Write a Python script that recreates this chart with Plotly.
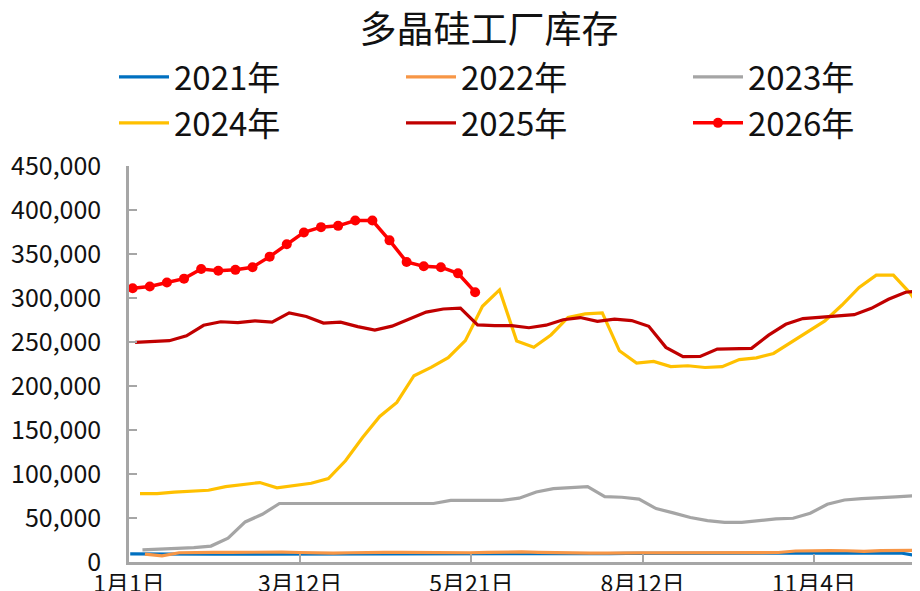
import datetime as dt
import plotly.graph_objects as go

# ---------------- data (values in tonnes) ----------------
YEARS = [2021, 2022, 2023, 2024, 2025, 2026]
SERIES_NAMES = ["2021年", "2022年", "2023年", "2024年", "2025年", "2026年"]

v2021 = [9.2, 9.0, 9.0, 8.8, 8.8, 8.8, 9.0, 9.0, 9.0, 9.0, 8.8, 8.8, 8.8, 8.8, 9.0, 9.0,
         9.0, 9.0, 9.0, 9.2, 9.2, 9.4, 9.4, 9.4, 9.4, 9.5, 9.5, 9.5, 9.5, 9.8, 9.8, 10.0,
         10.0, 10.0, 10.0, 10.0, 10.0, 10.0, 10.2, 10.4, 10.5, 10.5, 10.5, 10.6, 10.6, 10.2,
         7.2, 7.0]
v2022 = [9.0, 7.0, 10.5, 11.0, 11.0, 11.0, 11.2, 11.2, 11.2, 10.8, 10.0, 10.0, 10.5, 11.0,
         11.0, 11.0, 10.8, 11.0, 11.0, 10.5, 11.0, 11.5, 11.5, 11.0, 10.5, 9.8, 10.0, 10.0,
         10.5, 10.3, 10.3, 10.3, 10.3, 10.5, 10.5, 10.5, 10.5, 10.8, 12.5, 13.0, 13.0, 12.8,
         12.0, 13.0, 13.2, 13.2, 13.5]
v2023 = [13.7, 14.4, 15.5, 16.3, 18.1, 27.0, 45.5, 54.2, 66.5, 66.5, 66.5, 66.5, 66.5, 66.5,
         66.5, 66.5, 66.5, 66.5, 70.1, 70.1, 70.1, 70.1, 72.5, 79.6, 83.4, 84.2, 85.7, 74.3,
         73.6, 71.5, 60.7, 55.8, 50.5, 47.0, 45.0, 45.0, 47.0, 48.9, 49.7, 55.4, 65.6, 70.5,
         72.1, 72.8, 74.0, 75.1, 76.2]
v2024 = [77.7, 77.7, 79.3, 80.4, 81.5, 85.7, 88.4, 90.3, 84.2, 86.5, 89.5, 94.8, 115.0,
         141.5, 165.4, 181.3, 211.7, 221.2, 232.2, 251.6, 290.6, 309.2, 251.0, 244.0, 258.0,
         278.0, 282.0, 283.0, 240.0, 226.0, 228.0, 222.0, 223.0, 221.0, 222.0, 230.0, 232.0,
         237.0, 249.0, 262.0, 274.0, 292.0, 312.0, 326.0, 326.0, 305.0, 276.0]
v2025 = [249.6, 251.0, 251.5, 257.0, 269.0, 273.0, 272.0, 274.0, 272.5, 283.0, 279.0, 271.5,
         272.5, 267.5, 263.5, 268.0, 276.0, 284.0, 287.5, 288.5, 269.5, 268.5, 268.5, 266.2,
         269.1, 275.3, 277.8, 273.5, 275.9, 274.4, 267.8, 243.9, 233.4, 233.6, 242.0, 242.5,
         242.8, 257.8, 270.1, 276.6, 278.1, 279.2, 281.1, 288.3, 298.6, 306.5, 308.8]
v2026 = [311.0, 313.0, 317.6, 322.0, 333.0, 331.0, 332.0, 335.0, 347.0, 361.0, 374.5, 380.5,
         382.0, 388.0, 388.0, 365.5, 341.0, 336.0, 335.0, 328.0, 306.6]

VALUES = [v2021, v2022, v2023, v2024, v2025, v2026]
UNIT = 1000  # values above are in thousands of tonnes

XTICK_LABELS = ["1月1日", "3月12日", "5月21日", "8月12日", "11月4日"]
TICK_STEP_DAYS = 70
WEEK = 7
DAY_CENTER = 0.5  # points sit in the middle of their day slot

# ---------------- style ----------------
COLORS = ["#0070C0", "#F79646", "#A5A5A5", "#FFC000", "#C00000", "#FF0000"]
FONT = "Noto Sans CJK SC, Noto Sans, sans-serif"
AXIS_COLOR = "#A6A6A6"


def first_friday_offset(year):
    jan1 = dt.date(year, 1, 1)
    return (4 - jan1.weekday()) % 7


fig = go.Figure()
for year, name, vals, color in zip(YEARS, SERIES_NAMES, VALUES, COLORS):
    d0 = first_friday_offset(year)
    xs = [d0 + DAY_CENTER + WEEK * i for i in range(len(vals))]
    ys = [v * UNIT for v in vals]
    if year == 2026:
        fig.add_trace(go.Scatter(x=xs, y=ys, name=name, mode="lines+markers",
                                 line=dict(color=color, width=3.5),
                                 marker=dict(color=color, size=10)))
    else:
        fig.add_trace(go.Scatter(x=xs, y=ys, name=name, mode="lines",
                                 line=dict(color=color, width=3.2)))

W, H = 920, 591
ml, mr, mt, mb = 121, 0, 158, 37
plot_w = W - ml - mr
plot_h = H - mt - mb
px_per_day = 2.446
x_max = plot_w / px_per_day

fig.update_layout(
    width=W, height=H,
    margin=dict(l=ml, r=mr, t=mt, b=mb, pad=0, autoexpand=False),
    paper_bgcolor="white", plot_bgcolor="white",
    font=dict(family=FONT, color="#111111"),
    title=dict(text="多晶硅工厂库存", x=481 / W, xanchor="center",
               y=1 - 22 / H, yanchor="middle",
               font=dict(size=37, family=FONT, color="#111111")),
    legend=dict(orientation="h", x=(106 - ml) / plot_w, xanchor="left",
                yref="paper", y=1 + (mt - 41) / plot_h, yanchor="top",
                font=dict(size=33, family=FONT, color="#111111"),
                entrywidth=222, entrywidthmode="pixels",
                itemwidth=50, tracegroupgap=0, bgcolor="rgba(0,0,0,0)"),
    showlegend=True,
)

fig.update_xaxes(
    range=[0, x_max], showgrid=False, zeroline=False,
    showline=True, linecolor=AXIS_COLOR, linewidth=2.5,
    ticks="inside", ticklen=8, tickwidth=2, tickcolor=AXIS_COLOR,
    tickvals=[TICK_STEP_DAYS * k for k in range(len(XTICK_LABELS))],
    ticktext=XTICK_LABELS,
    tickfont=dict(size=23, family=FONT, color="#111111"),
    ticklabelstandoff=0,
)
fig.update_yaxes(
    range=[0, 450000], showgrid=False, zeroline=False,
    showline=True, linecolor=AXIS_COLOR, linewidth=2.5,
    ticks="inside", ticklen=8, tickwidth=2, tickcolor=AXIS_COLOR,
    dtick=50000, tickformat=",d",
    tickfont=dict(size=25, family=FONT, color="#111111"),
    ticklabelstandoff=20,
)

fig.write_html("out.html")
